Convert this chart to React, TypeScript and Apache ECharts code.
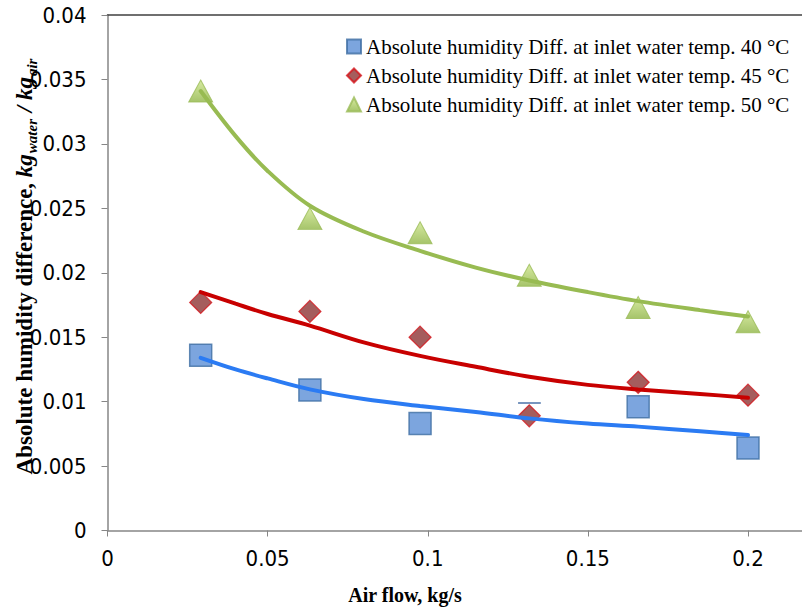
import React, { useEffect, useRef } from "react";
import * as echarts from "echarts";

// Measured points: air flow (kg/s) and absolute humidity difference (kg water / kg air)
const airFlow = [0.0291, 0.0632, 0.0976, 0.1317, 0.1657, 0.2];
const diff40 = [0.0136, 0.0109, 0.0083, null, 0.0096, 0.0064];
const diff45 = [0.0177, 0.017, 0.015, 0.0089, 0.0115, 0.0105];
const diff50 = [0.0341, 0.0242, 0.0231, 0.0198, 0.0173, 0.0162];

// Trend curves sampled along the air-flow range
const trendFlow = [0.0291, 0.04, 0.05, 0.0632, 0.08, 0.0976, 0.115, 0.1317, 0.15, 0.1657, 0.185, 0.2];
const trend40 = [0.0134, 0.0125, 0.0118, 0.01095, 0.0102, 0.00966, 0.0092, 0.0087, 0.0083, 0.00806, 0.0077, 0.00741];
const trend45 = [0.0185, 0.0176, 0.0168, 0.0159, 0.0146, 0.01355, 0.0127, 0.01193, 0.0113, 0.01095, 0.0106, 0.0103];
const trend50 = [0.0341, 0.0306, 0.0279, 0.0252, 0.0232, 0.0217, 0.0204, 0.0194, 0.0185, 0.0178, 0.0171, 0.0166];

const xTicks = [0, 0.05, 0.1, 0.15, 0.2];

const names = [
  "Absolute humidity Diff. at inlet water temp. 40 °C",
  "Absolute humidity Diff. at inlet water temp. 45 °C",
  "Absolute humidity Diff. at inlet water temp. 50 °C",
];

const pairs = (xs: number[], ys: (number | null)[]) =>
  xs.map((x, i) => [x, ys[i]]).filter((p) => p[1] !== null);

const AXIS_FONT = "'Liberation Sans Narrow', 'DejaVu Sans Condensed', sans-serif";
const SERIF = "'Liberation Serif', 'Times New Roman', serif";

export default function App() {
  const ref = useRef<HTMLDivElement>(null);

  useEffect(() => {
    if (!ref.current) return;
    const chart = echarts.init(ref.current, null, { renderer: "svg" });

    const fmt = (v: number) => String(+v.toFixed(3));

    const trendLine = (name: string, color: string, ys: number[]) => ({
      name,
      type: "line",
      smooth: 0.35,
      showSymbol: false,
      symbol: "none",
      z: 3,
      lineStyle: { color, width: 4, cap: "round" },
      data: pairs(trendFlow, ys),
    });

    chart.setOption({
      animation: false,
      backgroundColor: "#ffffff",
      grid: { left: 107.5, right: 0, top: 15, bottom: 79.5, containLabel: false },
      legend: {
        orient: "vertical",
        left: 341,
        top: 31,
        itemWidth: 14,
        itemHeight: 14,
        itemGap: 8,
        itemTextGap: 4,
        data: names,
        textStyle: { fontFamily: SERIF, fontSize: 21, color: "#000" },
      },
      xAxis: [
        {
          type: "value",
          min: 0,
          max: 0.21686,
          interval: 0.05,
          position: "bottom",
          splitLine: { show: false },
          axisLine: { show: true, lineStyle: { color: "#868686", width: 1.5 } },
          axisTick: {
            show: true,
            inside: false,
            length: 6,
            customValues: xTicks,
            lineStyle: { color: "#868686" },
          },
          axisLabel: {
            customValues: xTicks,
            margin: 17,
            fontFamily: AXIS_FONT,
            fontSize: 22,
            color: "#000",
            formatter: fmt,
          },
        },
        {
          type: "value",
          min: 0,
          max: 0.21686,
          position: "top",
          splitLine: { show: false },
          axisLine: { show: true, lineStyle: { color: "#404040", width: 1.5 } },
          axisTick: { show: false },
          axisLabel: { show: false },
        },
      ],
      yAxis: {
        type: "value",
        min: 0,
        max: 0.04,
        interval: 0.005,
        splitLine: { show: false },
        axisLine: { show: true, lineStyle: { color: "#868686", width: 1.5 } },
        axisTick: { show: true, length: 6, lineStyle: { color: "#868686" } },
        axisLabel: {
          margin: 21,
          fontFamily: AXIS_FONT,
          fontSize: 22,
          color: "#000",
          formatter: fmt,
        },
      },
      series: [
        {
          name: names[0],
          type: "scatter",
          symbol: "rect",
          symbolSize: 22,
          z: 2,
          itemStyle: { color: "#5b8fd6", borderColor: "#3f6ea3", borderWidth: 1.5 },
          data: pairs(airFlow, diff40),
          markLine: {
            silent: true,
            symbol: "none",
            label: { show: false },
            lineStyle: { color: "#4a72a8", width: 1.5, type: "solid" },
            data: [[{ coord: [0.1282, 0.00989] }, { coord: [0.1353, 0.00989] }]],
          },
        },
        {
          name: names[1],
          type: "scatter",
          symbol: "diamond",
          symbolSize: 22,
          z: 2,
          itemStyle: { color: "#8e3535", borderColor: "#d4141a", borderWidth: 1.2 },
          data: pairs(airFlow, diff45),
        },
        {
          name: names[2],
          type: "scatter",
          symbol: "triangle",
          symbolSize: [24, 22],
          z: 2,
          itemStyle: {
            color: new echarts.graphic.LinearGradient(0, 0, 0, 1, [
              { offset: 0, color: "#cde58a" },
              { offset: 1, color: "#8fb545" },
            ]),
            borderColor: "#9bbb59",
            borderWidth: 1,
          },
          data: pairs(airFlow, diff50),
        },
        trendLine("trend40", "#2b7bf3", trend40),
        trendLine("trend45", "#c80000", trend45),
        trendLine("trend50", "#98bb52", trend50),
      ],
      graphic: [
        {
          type: "text",
          x: 24,
          y: 266,
          rotation: Math.PI / 2,
          style: {
            text: "{b|Absolute humidity difference, }{i|kg}{s|water}{i| / kg}{s|air}",
            align: "center",
            verticalAlign: "middle",
            fill: "#000",
            rich: {
              b: { fontFamily: SERIF, fontWeight: "bold", fontSize: 23, lineHeight: 30 },
              i: { fontFamily: SERIF, fontWeight: "bold", fontStyle: "italic", fontSize: 23, lineHeight: 30 },
              s: {
                fontFamily: SERIF,
                fontWeight: "bold",
                fontStyle: "italic",
                fontSize: 15,
                lineHeight: 15,
                verticalAlign: "bottom",
                padding: [0, 1, 0, 1],
              },
            },
          },
        },
        {
          type: "text",
          x: 405,
          y: 595,
          style: {
            text: "Air flow, kg/s",
            align: "center",
            verticalAlign: "middle",
            fontFamily: SERIF,
            fontWeight: "bold",
            fontSize: 20,
            fill: "#000",
          },
        },
      ],
    });

    return () => chart.dispose();
  }, []);

  return <div ref={ref} style={{ width: 802, height: 610, position: "absolute", left: 0, top: 0 }} />;
}
